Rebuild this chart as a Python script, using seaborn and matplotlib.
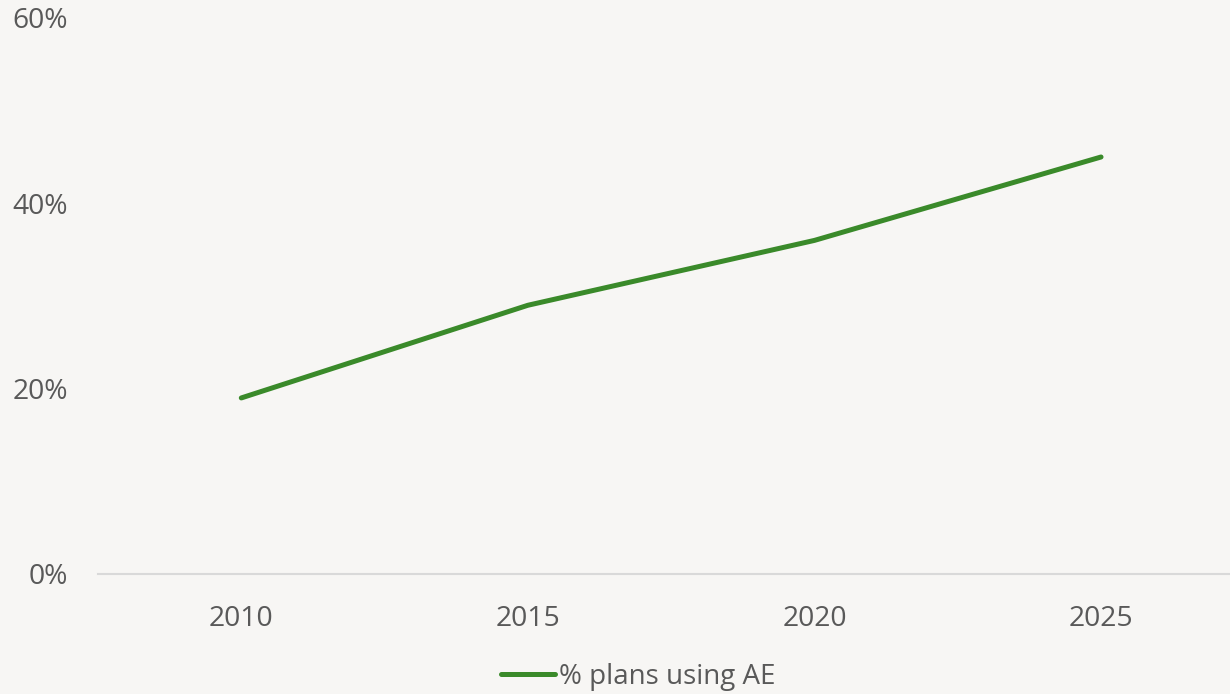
import matplotlib
matplotlib.use("Agg")
import matplotlib.pyplot as plt
import matplotlib.ticker as mticker
import seaborn as sns
import pandas as pd

years = ["2010", "2015", "2020", "2025"]
share_using_ae = [0.19, 0.29, 0.36, 0.45]
series_name = "% plans using AE"
y_ticks = [0.0, 0.2, 0.4, 0.6]

BG = "#F7F6F4"
GREEN = "#3A8A2A"
TEXT = "#595959"

sns.set_theme(style="white")
plt.rcParams["font.family"] = ["Open Sans", "DejaVu Sans"]

W, H = 1230, 694
fig = plt.figure(figsize=(W / 100, H / 100), dpi=100, facecolor=BG)
left, right, top, bottom = 98, 1230, 18, 574
ax = fig.add_axes([left / W, 1 - bottom / H, (right - left) / W, (bottom - top) / H])
ax.set_facecolor(BG)

df = pd.DataFrame({"year": years, "share": share_using_ae})
sns.lineplot(data=df, x="year", y="share", ax=ax, color=GREEN, linewidth=3.6,
             sort=False, label=series_name, solid_capstyle="round")

ax.set_xlim(-0.5, 3.45)
ax.set_ylim(0, 0.6)
ax.set_yticks(y_ticks)
ax.yaxis.set_major_formatter(mticker.PercentFormatter(1.0, decimals=0))
ax.set_xlabel("")
ax.set_ylabel("")
for s in ["top", "right", "left"]:
    ax.spines[s].set_visible(False)
ax.spines["bottom"].set_color("#D9D9D9")
ax.spines["bottom"].set_linewidth(1.5)
ax.tick_params(axis="both", length=0, labelsize=20.3, colors=TEXT)
ax.tick_params(axis="y", pad=21.5)
ax.tick_params(axis="x", pad=22)
ax.grid(False)

ax.get_legend().remove()
handles, labels = ax.get_legend_handles_labels()
leg = fig.legend(handles, labels, loc="center",
                 bbox_to_anchor=(0.5 + 23 / W, 1 - 677 / H),
                 frameon=False, fontsize=20, handlelength=1.95, handletextpad=0.15,
                 labelcolor=TEXT)
for ln in leg.get_lines():
    ln.set_linewidth(3.6)
    ln.set_solid_capstyle("round")

fig.savefig("out.png", dpi=100, facecolor=BG)
